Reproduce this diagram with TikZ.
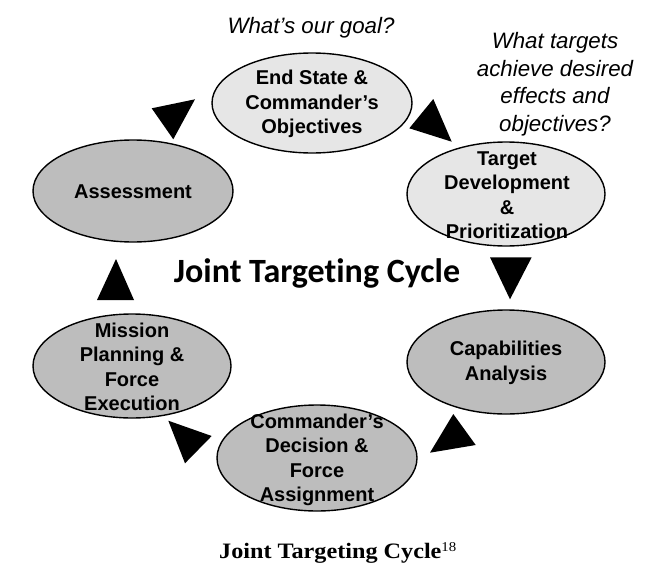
\documentclass[tikz,border=0pt]{standalone}
\usepackage{fontspec}
\setmainfont{Liberation Sans}
\newfontfamily\calfont[Ligatures=NoCommon]{Carlito}
\newfontfamily\capfont[FakeStretch=1.1]{Liberation Serif}
\usetikzlibrary{shapes.geometric}
\definecolor{lightfill}{HTML}{E6E6E6}
\definecolor{darkfill}{HTML}{BDBDBD}
\tikzset{
  stage/.style={ellipse, draw=black, line width=1.4pt, inner sep=0pt},
  lightstage/.style={stage, fill=lightfill},
  darkstage/.style={stage, fill=darkfill},
  stagetext/.style={align=center, inner sep=0pt, font=\bfseries\fontsize{20}{24.5}\selectfont},
  question/.style={align=center, inner sep=0pt, font=\itshape\fontsize{22.3}{27.5}\selectfont},
  arrowtri/.style={fill=black}
}
\begin{document}
\begin{tikzpicture}[x=1pt,y=-1pt]
\useasboundingbox (0,0) rectangle (667,570);
\fill[white] (0,0) rectangle (667,570);

% stages
\node[lightstage, minimum width=200pt, minimum height=100pt] (es) at (312,103) {};
\node[lightstage, minimum width=198pt, minimum height=104pt] (td) at (506,194) {};
\node[darkstage, minimum width=198pt, minimum height=104pt] (ca) at (506,362) {};
\node[darkstage, minimum width=200pt, minimum height=106pt] (cd) at (317,458) {};
\node[darkstage, minimum width=198pt, minimum height=104pt] (mp) at (132,366) {};
\node[darkstage, minimum width=200pt, minimum height=102pt] (as) at (133,191) {};

% stage texts
\node[stagetext] (es-t) at (312,104) {End State \&\\Commander’s\\Objectives};
\node[stagetext] (td-t) at (507,195) {Target\\Development\\\&\\Prioritization};
\node[stagetext] (ca-t) at (506,363) {Capabilities\\Analysis};
\node[stagetext] (cd-t) at (317,460) {Commander’s\\Decision \&\\Force\\Assignment};
\node[stagetext] (mp-t) at (132,367) {Mission\\Planning \&\\Force\\Execution};
\node[stagetext] (as-t) at (133,192) {Assessment};

% questions
\node[question] (q1) at (311,28) {What’s our goal?};
\node[question] (q2) at (555,84) {What targets\\achieve desired\\effects and\\objectives?};

% centre title
\node[inner sep=0pt, font=\calfont\bfseries\fontsize{34}{38}\selectfont] (title) at (317,273) {Joint Targeting Cycle};

% caption
\node[inner sep=0pt, font=\capfont\bfseries\fontsize{22}{25}\selectfont] (caption) at (338,553) {Joint Targeting Cycle\textsuperscript{\fontsize{13.5}{14}\selectfont\mdseries 18}};

% triangles (arrowheads of the cycle)
\fill[arrowtri] (151.7,108.3) -- (195,99.3) -- (173.3,139.3) -- cycle;
\fill[arrowtri] (433.3,99) -- (409.3,128.3) -- (451.7,141.7) -- cycle;
\fill[arrowtri] (490,257.3) -- (531.7,257.3) -- (510,299.3) -- cycle;
\fill[arrowtri] (453.3,414) -- (430,452.7) -- (475.7,445) -- cycle;
\fill[arrowtri] (168.3,420.7) -- (211.7,436) -- (185,463.3) -- cycle;
\fill[arrowtri] (116,259) -- (97,300) -- (134,300) -- cycle;
\end{tikzpicture}
\end{document}
